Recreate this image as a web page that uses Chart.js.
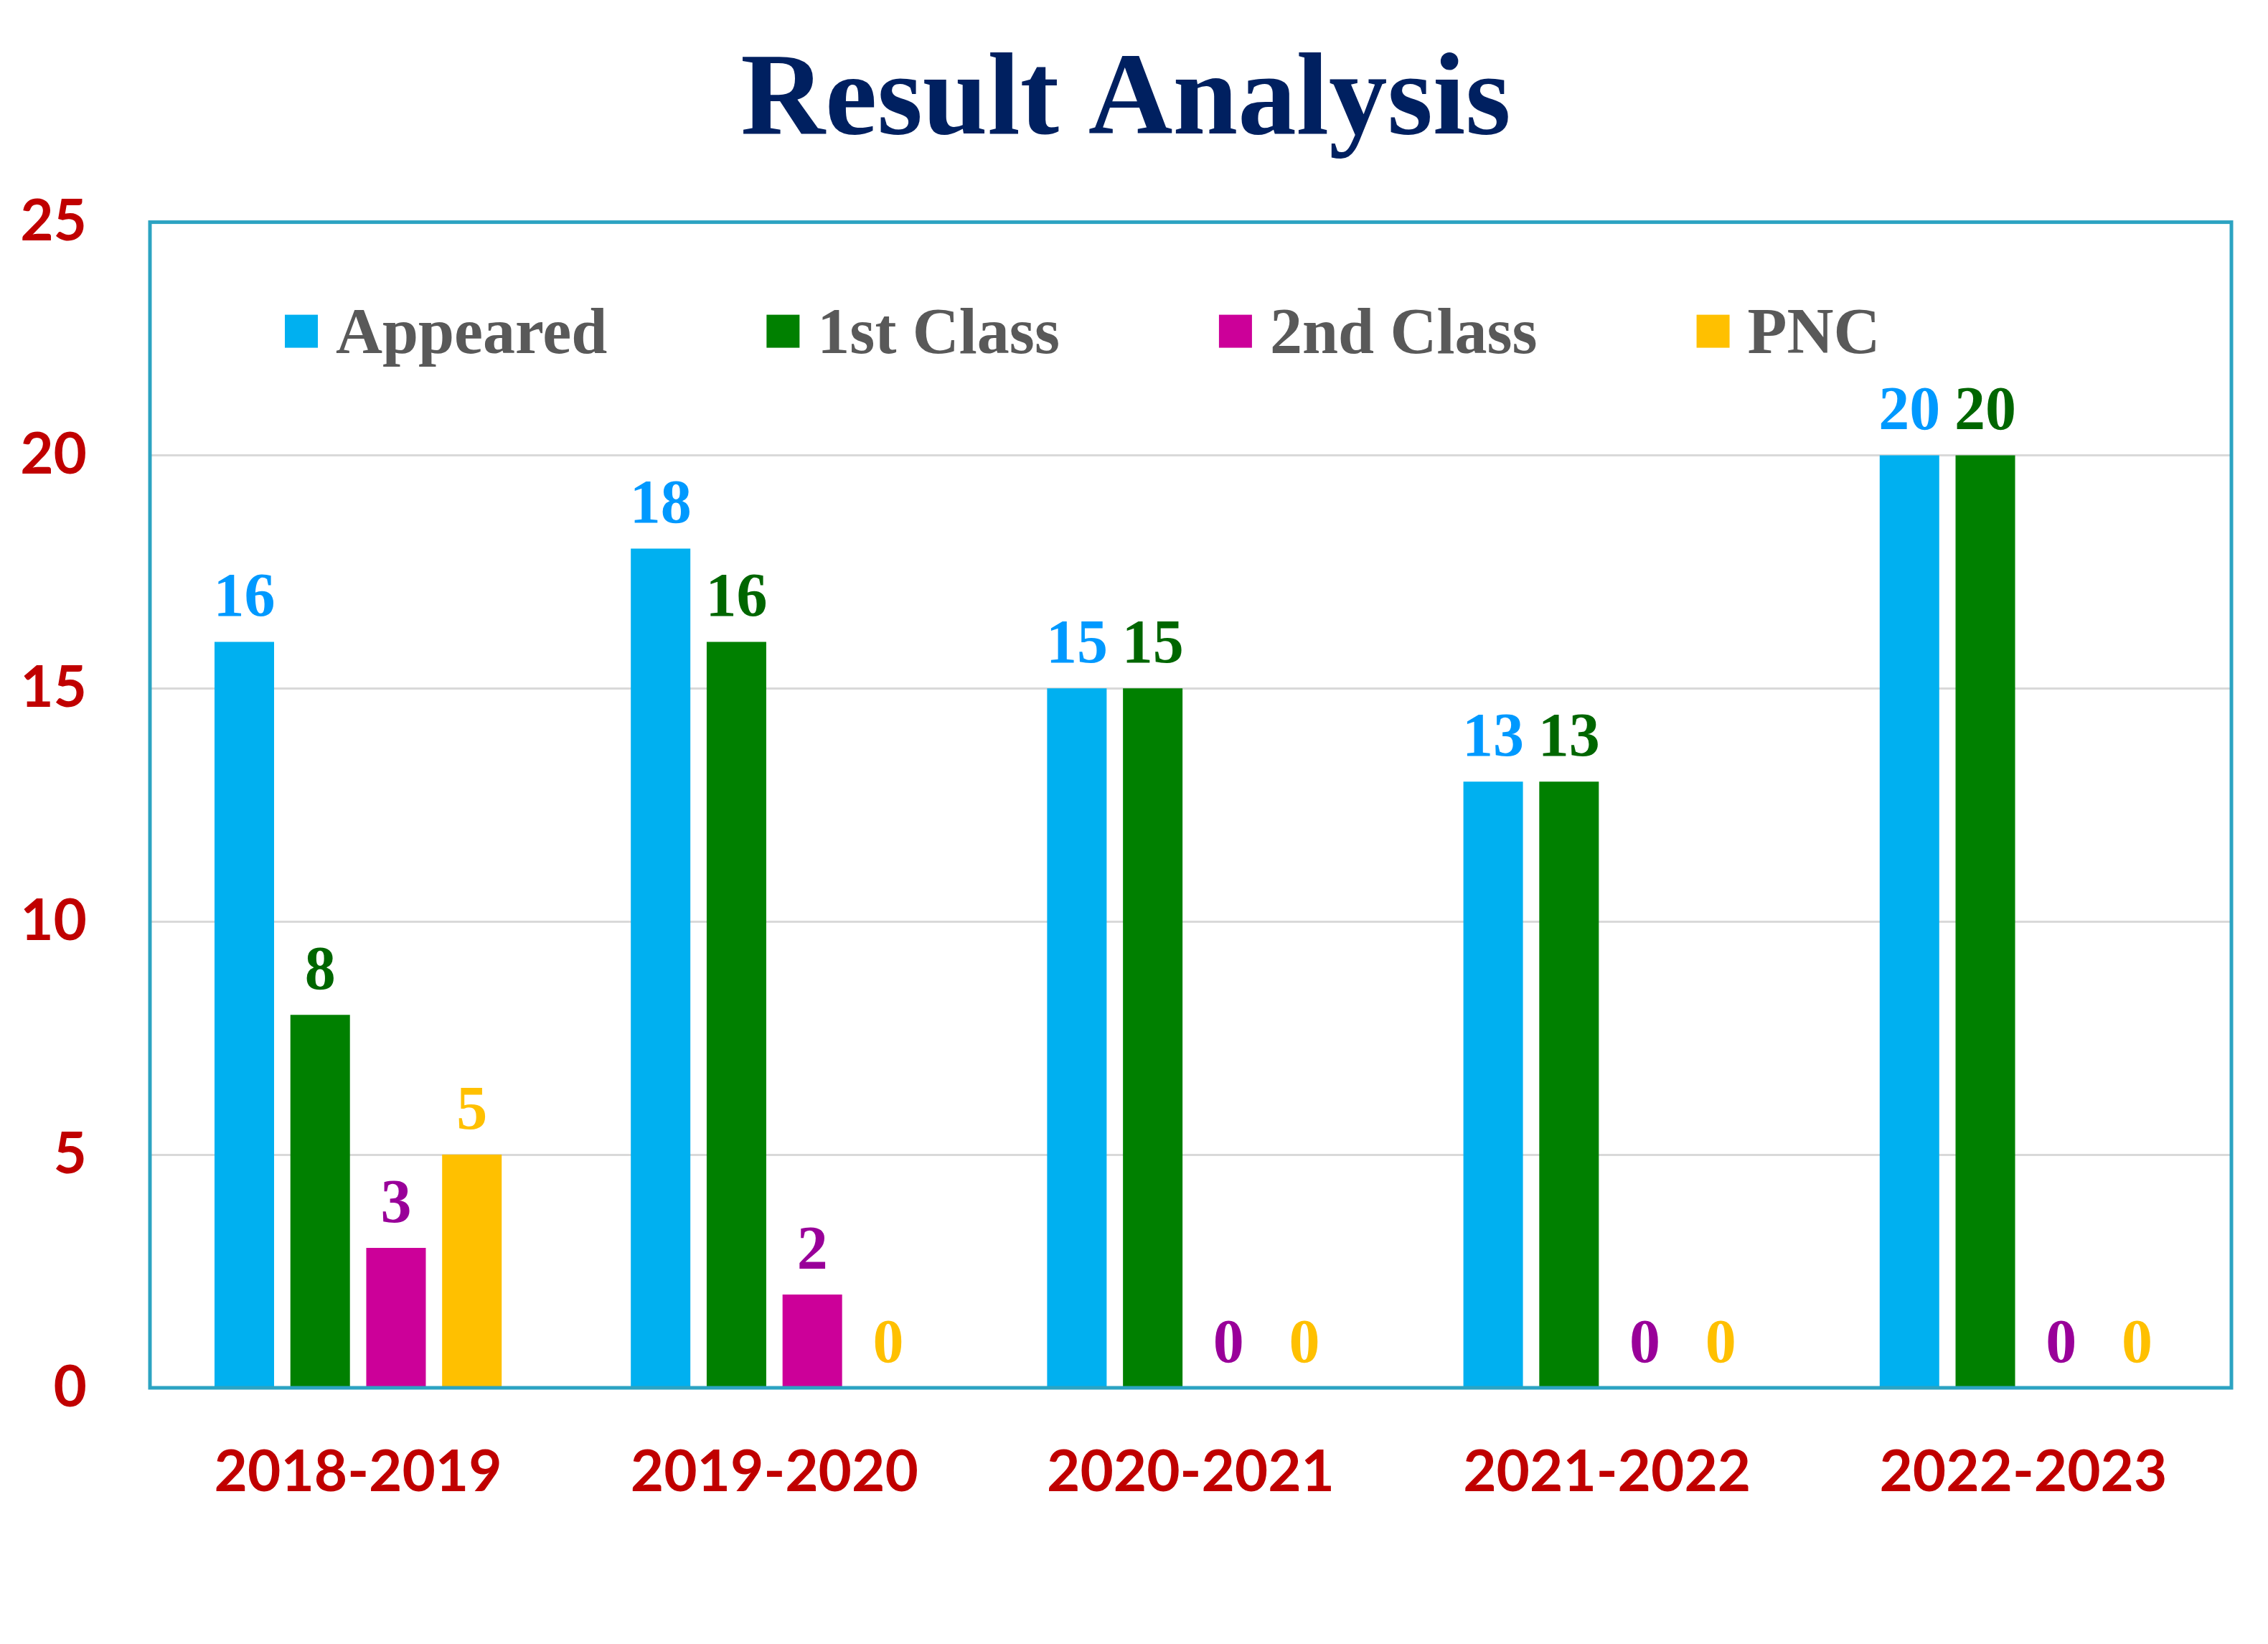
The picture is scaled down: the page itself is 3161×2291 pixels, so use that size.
<!DOCTYPE html>
<html>
<head>
<meta charset="utf-8">
<title>Result Analysis</title>
<script src="https://cdn.jsdelivr.net/npm/chart.js@4.4.1/dist/chart.umd.min.js"></script>
<style>
    html, body { margin: 0; padding: 0; background: #ffffff; }
    #wrap { width: 3161px; height: 2291px; position: relative; }
</style>
</head>
<body>
<div id="wrap"><canvas id="resultChart"></canvas></div>
<script>
// chart data
const years = ['2018-2019', '2019-2020', '2020-2021', '2021-2022', '2022-2023'];
const appeared = [16, 18, 15, 13, 20];
const firstClass = [8, 16, 15, 13, 20];
const secondClass = [3, 2, 0, 0, 0];
const pnc = [5, 0, 0, 0, 0];
const yTicks = [0, 5, 10, 15, 20, 25];

const serif = "'Times New Roman', 'Liberation Serif', serif";
const sans = "Lato, 'Open Sans', sans-serif";

// value labels above the bars
const valueLabels = {
    id: 'valueLabels',
    afterDatasetsDraw(chart) {
        const ctx = chart.ctx;
        ctx.save();
        ctx.font = 'bold 86px ' + serif;
        ctx.textAlign = 'center';
        ctx.textBaseline = 'alphabetic';
        chart.data.datasets.forEach((ds, i) => {
            const meta = chart.getDatasetMeta(i);
            ctx.fillStyle = ds.labelColor;
            meta.data.forEach((bar, j) => {
                ctx.fillText(ds.data[j], bar.x, bar.y - 36);
            });
        });
        ctx.restore();
    }
};

// box round the plot area
const areaBorder = {
    id: 'areaBorder',
    afterDatasetsDraw(chart) {
        const a = chart.chartArea;
        const ctx = chart.ctx;
        ctx.save();
        ctx.strokeStyle = '#2CA3C2';
        ctx.lineWidth = 5;
        ctx.strokeRect(a.left, a.top, a.right - a.left, a.bottom - a.top);
        ctx.restore();
    }
};

// legend drawn inside the plot area
const innerLegend = {
    id: 'innerLegend',
    afterDraw(chart) {
        const a = chart.chartArea;
        const ctx = chart.ctx;
        ctx.save();
        ctx.font = 'bold 90px ' + serif;
        ctx.textBaseline = 'alphabetic';
        let x = a.left + 188;
        const yMid = a.top + 152;
        chart.data.datasets.forEach(ds => {
            ctx.fillStyle = ds.backgroundColor;
            ctx.fillRect(x, yMid - 23, 46, 46);
            ctx.fillStyle = '#595959';
            ctx.fillText(ds.label, x + 71, yMid + 30);
            x += 71 + ctx.measureText(ds.label).width + 222;
        });
        ctx.restore();
    }
};

const ctx = document.getElementById('resultChart').getContext('2d');

new Chart(ctx, {
    type: 'bar',
    data: {
        labels: years,
        datasets: [
            { label: 'Appeared', data: appeared, backgroundColor: '#00B0F0', labelColor: '#0099FF' },
            { label: '1st Class', data: firstClass, backgroundColor: '#008000', labelColor: '#006600' },
            { label: '2nd Class', data: secondClass, backgroundColor: '#CC0099', labelColor: '#990099' },
            { label: 'PNC', data: pnc, backgroundColor: '#FFC000', labelColor: '#FFC000' }
        ]
    },
    options: {
        responsive: true,
        maintainAspectRatio: false,
        animation: false,
        datasets: {
            bar: { categoryPercentage: 0.729, barPercentage: 0.785 }
        },
        layout: {
            padding: { top: 0, left: 28, right: 51, bottom: 121 }
        },
        plugins: {
            legend: { display: false },
            tooltip: { enabled: false },
            title: {
                display: true,
                text: 'Result Analysis',
                color: '#002060',
                font: { family: serif, size: 163, weight: 'bold' },
                padding: { top: 46, bottom: 68 }
            }
        },
        scales: {
            x: {
                grid: { display: false, drawTicks: false },
                border: { display: false },
                ticks: {
                    color: '#C00000',
                    font: { family: sans, size: 80, weight: 'bold' },
                    padding: 70
                }
            },
            y: {
                min: 0,
                max: 25,
                afterBuildTicks: axis => { axis.ticks = yTicks.map(v => ({ value: v })); },
                // labels sit 88px left of the axis, no extra room beyond them
                afterFit: axis => { axis.width = 181; },
                grid: { color: '#D9D9D9', lineWidth: 3, drawTicks: false },
                border: { display: false },
                ticks: {
                    color: '#C00000',
                    font: { family: sans, size: 80, weight: 'bold' },
                    padding: 88
                }
            }
        }
    },
    plugins: [areaBorder, valueLabels, innerLegend]
});
</script>
</body>
</html>
